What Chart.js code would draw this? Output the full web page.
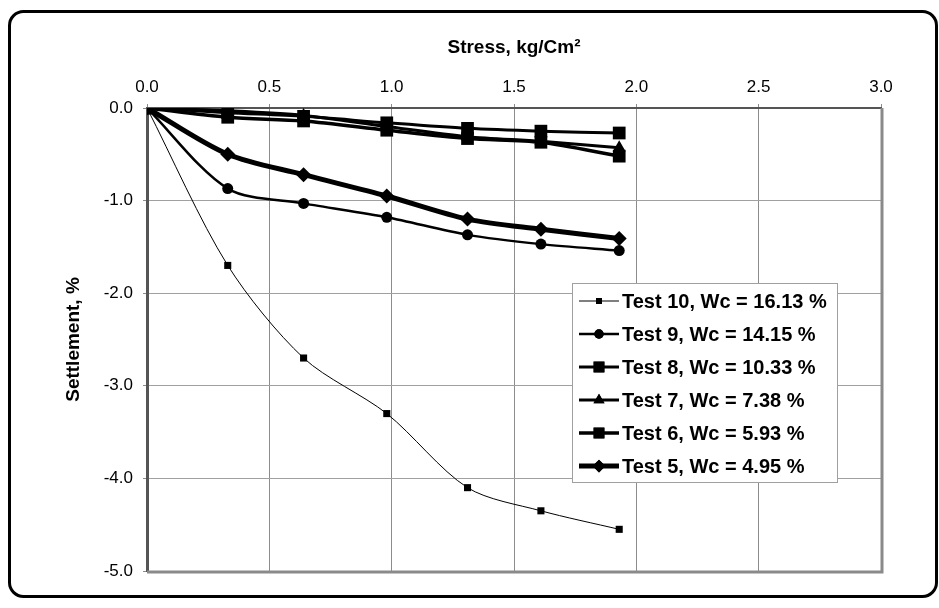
<!DOCTYPE html>
<html>
<head>
<meta charset="utf-8">
<script src="https://cdn.jsdelivr.net/npm/chart.js@4.4.1/dist/chart.umd.min.js"></script>
<style>
  html, body { margin: 0; padding: 0; background: #fff; }
  #wrap { width: 939px; height: 608px; position: relative; }
</style>
</head>
<body>
<div id="wrap"><canvas id="chart" width="939" height="608"></canvas></div>
<script>
// stress steps (kg/cm2), shared by all tests
const stress = [0, 0.33, 0.64, 0.98, 1.31, 1.61, 1.93];

const labels = [
  "Test 10, Wc = 16.13 %",
  "Test 9, Wc = 14.15 %",
  "Test 8, Wc = 10.33 %",
  "Test 7, Wc = 7.38 %",
  "Test 6, Wc = 5.93 %",
  "Test 5, Wc = 4.95 %"
];

// settlement, %
const test10 = [0, -1.70, -2.70, -3.30, -4.10, -4.35, -4.55];
const test9  = [0, -0.87, -1.03, -1.18, -1.37, -1.47, -1.54];
const test8  = [0, -0.05, -0.09, -0.16, -0.22, -0.25, -0.27];
const test7  = [0, -0.03, -0.08, -0.20, -0.31, -0.36, -0.43];
const test6  = [0, -0.10, -0.14, -0.24, -0.33, -0.37, -0.52];
const test5  = [0, -0.50, -0.72, -0.95, -1.20, -1.31, -1.41];

const xTicks = [0, 0.5, 1.0, 1.5, 2.0, 2.5, 3.0];
const yTicks = [0, -1, -2, -3, -4, -5];

const series = [test10, test9, test8, test7, test6, test5];
const looks = [
  { style: "rect",    r: 5,   w: 1 },
  { style: "circle",  r: 5.5, w: 2.5 },
  { style: "rect",    r: 9,   w: 3 },
  { style: "triangle",r: 7.5, w: 3 },
  { style: "rect",    r: 9,   w: 3.5 },
  { style: "rectRot", r: 7.5, w: 5 }
];

const datasets = series.map((vals, i) => ({
  label: labels[i],
  data: vals.map((v, k) => ({ x: stress[k], y: v })),
  borderColor: "#000",
  backgroundColor: "#000",
  borderWidth: looks[i].w,
  pointStyle: looks[i].style,
  pointRadius: looks[i].r,
  pointBorderWidth: 0,
  pointBackgroundColor: "#000",
  tension: 0.3,
  fill: false
})).reverse();

const font = "'Liberation Sans', Arial, sans-serif";

// outer rounded frame + plot edges
const framePlugin = {
  id: "frame",
  beforeDraw(chart) {
    const c = chart.ctx;
    c.save();
    c.fillStyle = "#fff";
    c.fillRect(0, 0, chart.width, chart.height);
    c.strokeStyle = "#000";
    c.lineWidth = 3;
    c.beginPath();
    c.roundRect(9.5, 11.5, 927, 585, 14);
    c.stroke();
    c.restore();
  },
  afterDraw(chart) {
    const a = chart.chartArea, c = chart.ctx;
    c.save();
    c.strokeStyle = "#8a8a8a";
    c.lineWidth = 3;
    c.beginPath();
    c.moveTo(a.left, a.bottom + 1);
    c.lineTo(a.right + 1, a.bottom + 1);
    c.lineTo(a.right + 1, a.top);
    c.stroke();
    c.restore();

    // legend box inside the plot area
    const bx = 572, by = 283, bw = 265, bh = 199, row = 33;
    c.save();
    c.fillStyle = "#fff";
    c.fillRect(bx, by, bw, bh);
    c.strokeStyle = "#a0a0a0";
    c.lineWidth = 1;
    c.strokeRect(bx + 0.5, by + 0.5, bw, bh);
    c.font = "bold 20px " + font;
    c.textBaseline = "middle";
    c.fillStyle = "#000";
    labels.forEach((t, i) => {
      const y = by + 18 + i * row;
      const lk = looks[i];
      c.strokeStyle = "#000";
      c.lineWidth = lk.w;
      c.beginPath();
      c.moveTo(bx + 7, y);
      c.lineTo(bx + 47, y);
      c.stroke();
      Chart.helpers.drawPoint(c, { pointStyle: lk.style, radius: lk.r * 0.85, borderWidth: 0 }, bx + 27, y);
      c.fillStyle = "#000";
      c.fill();
      c.fillText(t, bx + 50, y + 1);
    });
    c.restore();
  }
};

new Chart(document.getElementById("chart"), {
  type: "line",
  data: { datasets },
  plugins: [framePlugin],
  options: {
    responsive: false,
    animation: false,
    layout: { padding: { left: 0, right: 58, top: 0, bottom: 37 } },
    plugins: { legend: { display: false }, tooltip: { enabled: false } },
    scales: {
      x: {
        type: "linear",
        position: "top",
        min: 0, max: 3,
        afterBuildTicks: s => { s.ticks = xTicks.map(v => ({ value: v })); },
        afterFit: s => { s.height = 108; },
        ticks: {
          color: "#000",
          font: { family: font, size: 17 },
          padding: 6,
          maxRotation: 0,
          callback: v => Number(v).toFixed(1)
        },
        grid: { color: "#8c8c8c", lineWidth: 1, tickLength: 4, tickColor: "#8c8c8c" },
        border: { color: "#555", width: 2 },
        title: {
          display: true,
          text: "Stress, kg/Cm²",
          color: "#000",
          font: { family: font, size: 19, weight: "bold" },
          padding: { top: 36, bottom: 0 }
        }
      },
      y: {
        type: "linear",
        min: -5, max: 0,
        afterBuildTicks: s => { s.ticks = yTicks.map(v => ({ value: v })); },
        afterFit: s => { s.width = 147; },
        ticks: {
          color: "#000",
          font: { family: font, size: 17 },
          padding: 10,
          callback: v => Number(v).toFixed(1)
        },
        grid: { color: "#a0a0a0", lineWidth: 1, tickLength: 4, tickColor: "#8c8c8c" },
        border: { color: "#555", width: 3 },
        title: {
          display: true,
          text: "Settlement, %",
          color: "#000",
          font: { family: font, size: 19, weight: "bold" },
          padding: { top: 62, bottom: 0 }
        }
      }
    }
  }
});
</script>
</body>
</html>
